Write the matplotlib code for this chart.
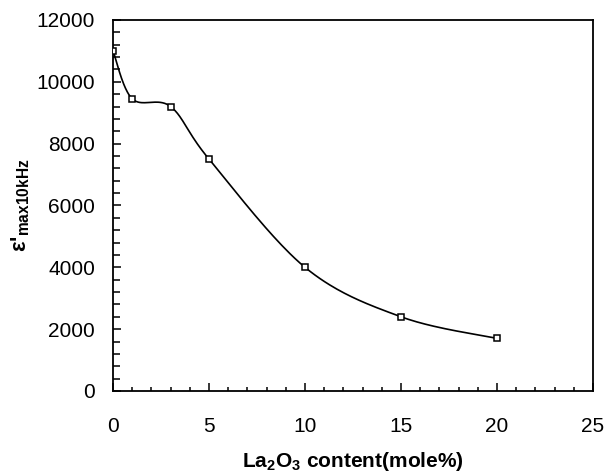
import numpy as np
import matplotlib
matplotlib.use('Agg')
import matplotlib.pyplot as plt
from matplotlib.ticker import MultipleLocator

plt.rcParams['font.family'] = ['Liberation Sans', 'DejaVu Sans']
plt.rcParams['mathtext.fontset'] = 'custom'
plt.rcParams['mathtext.rm'] = 'Liberation Sans:bold'
plt.rcParams['mathtext.it'] = 'Liberation Sans:bold'
plt.rcParams['mathtext.bf'] = 'Liberation Sans:bold'

# La2O3 content (mole%) vs permittivity maximum at 10 kHz
la_content = [0, 1, 3, 5, 10, 15, 20]
eps_max = [11000, 9450, 9200, 7500, 4000, 2400, 1700]

fig = plt.figure(figsize=(6.09, 4.76), dpi=100)
ax = fig.add_axes([0.1856, 0.1786, 0.7881, 0.7794])

ax.set_xlim(0, 25)
ax.set_ylim(0, 12000)


def smooth_curve(ax, xs, ys, n=40):
    # catmull-rom style smoothing done in screen space, like a spreadsheet "smoothed line"
    pts = ax.transData.transform(np.column_stack([xs, ys]))
    pts = np.vstack([pts[0], pts, pts[-1]])
    out = []
    for i in range(1, len(pts) - 2):
        p0, p1, p2, p3 = pts[i - 1], pts[i], pts[i + 1], pts[i + 2]
        c1 = p1 + (p2 - p0) / 6.0
        c2 = p2 - (p3 - p1) / 6.0
        t = np.linspace(0, 1, n)[:, None]
        seg = ((1 - t) ** 3) * p1 + 3 * ((1 - t) ** 2) * t * c1 + 3 * (1 - t) * t ** 2 * c2 + t ** 3 * p2
        out.append(seg)
    out = np.vstack(out)
    return ax.transData.inverted().transform(out)


curve = smooth_curve(ax, la_content, eps_max)
ax.plot(curve[:, 0], curve[:, 1], color='black', lw=1.2, zorder=2)
ax.plot(la_content, eps_max, ls='none', marker='s', ms=5, mfc='white',
        mec='black', mew=1.1, zorder=3)

ax.xaxis.set_major_locator(MultipleLocator(5))
ax.xaxis.set_minor_locator(MultipleLocator(1))
ax.yaxis.set_major_locator(MultipleLocator(2000))
ax.yaxis.set_minor_locator(MultipleLocator(400))

ax.tick_params(axis='both', which='both', direction='in', top=False, right=False,
               width=1.1, color='black')
ax.tick_params(axis='x', which='major', length=6, pad=19, labelsize=15)
ax.tick_params(axis='x', which='minor', length=3)
ax.tick_params(axis='y', which='major', length=6, pad=13, labelsize=15)
ax.tick_params(axis='y', which='minor', length=5)

for s in ax.spines.values():
    s.set_linewidth(1.3)

ax.set_xlabel('La$_2$O$_3$ content(mole%)', fontsize=15, fontweight='bold', labelpad=10)
ax.set_ylabel("ε'$_{max10kHz}$", fontsize=16, fontweight='bold', labelpad=3)

fig.savefig('out.png', dpi=100)
